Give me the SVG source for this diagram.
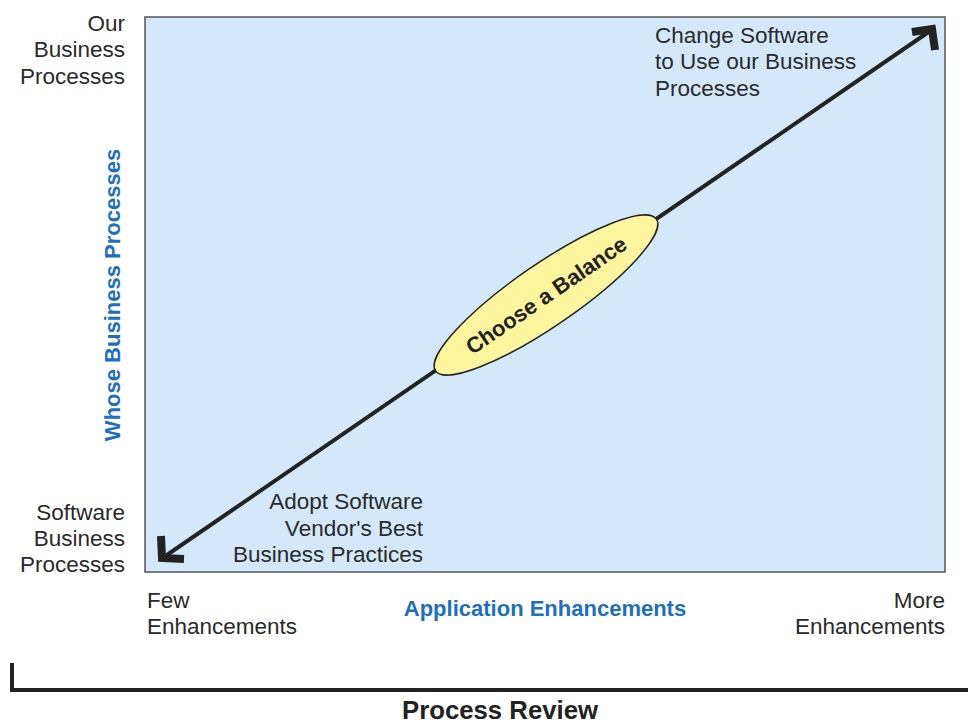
<svg xmlns="http://www.w3.org/2000/svg" width="968" height="725" viewBox="0 0 968 725">
<style>
.t{font-family:"Liberation Sans",Arial,sans-serif;font-size:22.5px;fill:#2a2a2a}
.r{text-anchor:end}
.b{font-family:"Liberation Sans",Arial,sans-serif;font-weight:bold;font-size:22px;fill:#1e6fbe}
.line{stroke:#222;stroke-width:4;fill:none}
.head{stroke:#222;stroke-width:8;fill:none;stroke-linejoin:miter;stroke-linecap:butt}
</style>
<rect width="968" height="725" fill="#fff"/>
<g id="chart">
<rect x="145" y="17" width="800" height="555" fill="#d3e9fb" stroke="#555" stroke-width="1.5"/>
</g>
<g id="connectors">
<line class="line" x1="164" y1="557" x2="930" y2="31"/>
<polyline class="head" points="161,536 162,558 184,559"/>
<polyline class="head" points="912,32 932,29 935,50"/>
</g>
<g id="balance">
<ellipse cx="546" cy="295" rx="134" ry="31" transform="rotate(-34.5 546 295)" fill="#fff59e" stroke="#222" stroke-width="1.5"/>
<text x="546" y="303" transform="rotate(-34.5 546 295)" text-anchor="middle" style="font-family:'Liberation Sans',Arial,sans-serif;font-weight:bold;font-size:22px;fill:#222">Choose a Balance</text>
</g>
<g id="top-right-label">
<text class="t" x="655" y="43">Change Software</text>
<text class="t" x="655" y="69">to Use our Business</text>
<text class="t" x="655" y="96">Processes</text>
</g>
<g id="bottom-left-label">
<text class="t r" x="423" y="509">Adopt Software</text>
<text class="t r" x="423" y="536">Vendor's Best</text>
<text class="t r" x="423" y="562">Business Practices</text>
</g>
<g id="y-top">
<text class="t r" x="125" y="31">Our</text>
<text class="t r" x="125" y="57">Business</text>
<text class="t r" x="125" y="84">Processes</text>
</g>
<g id="y-bottom">
<text class="t r" x="125" y="520">Software</text>
<text class="t r" x="125" y="546">Business</text>
<text class="t r" x="125" y="572">Processes</text>
</g>
<g id="y-title">
<text class="b" x="120" y="295" transform="rotate(-90 120 295)" text-anchor="middle">Whose Business Processes</text>
</g>
<g id="x-left">
<text class="t" x="147" y="608">Few</text>
<text class="t" x="147" y="634">Enhancements</text>
</g>
<g id="x-right">
<text class="t r" x="945" y="608">More</text>
<text class="t r" x="945" y="634">Enhancements</text>
</g>
<g id="x-title">
<text class="b" x="545" y="616" text-anchor="middle">Application Enhancements</text>
</g>
<g id="footer">
<polyline points="12,663 12,690 968,690" fill="none" stroke="#222" stroke-width="4"/>
<text x="500" y="719" text-anchor="middle" textLength="196" lengthAdjust="spacingAndGlyphs" style="font-family:'Liberation Sans',Arial,sans-serif;font-weight:bold;font-size:25px;fill:#222">Process Review</text>
</g>
</svg>
